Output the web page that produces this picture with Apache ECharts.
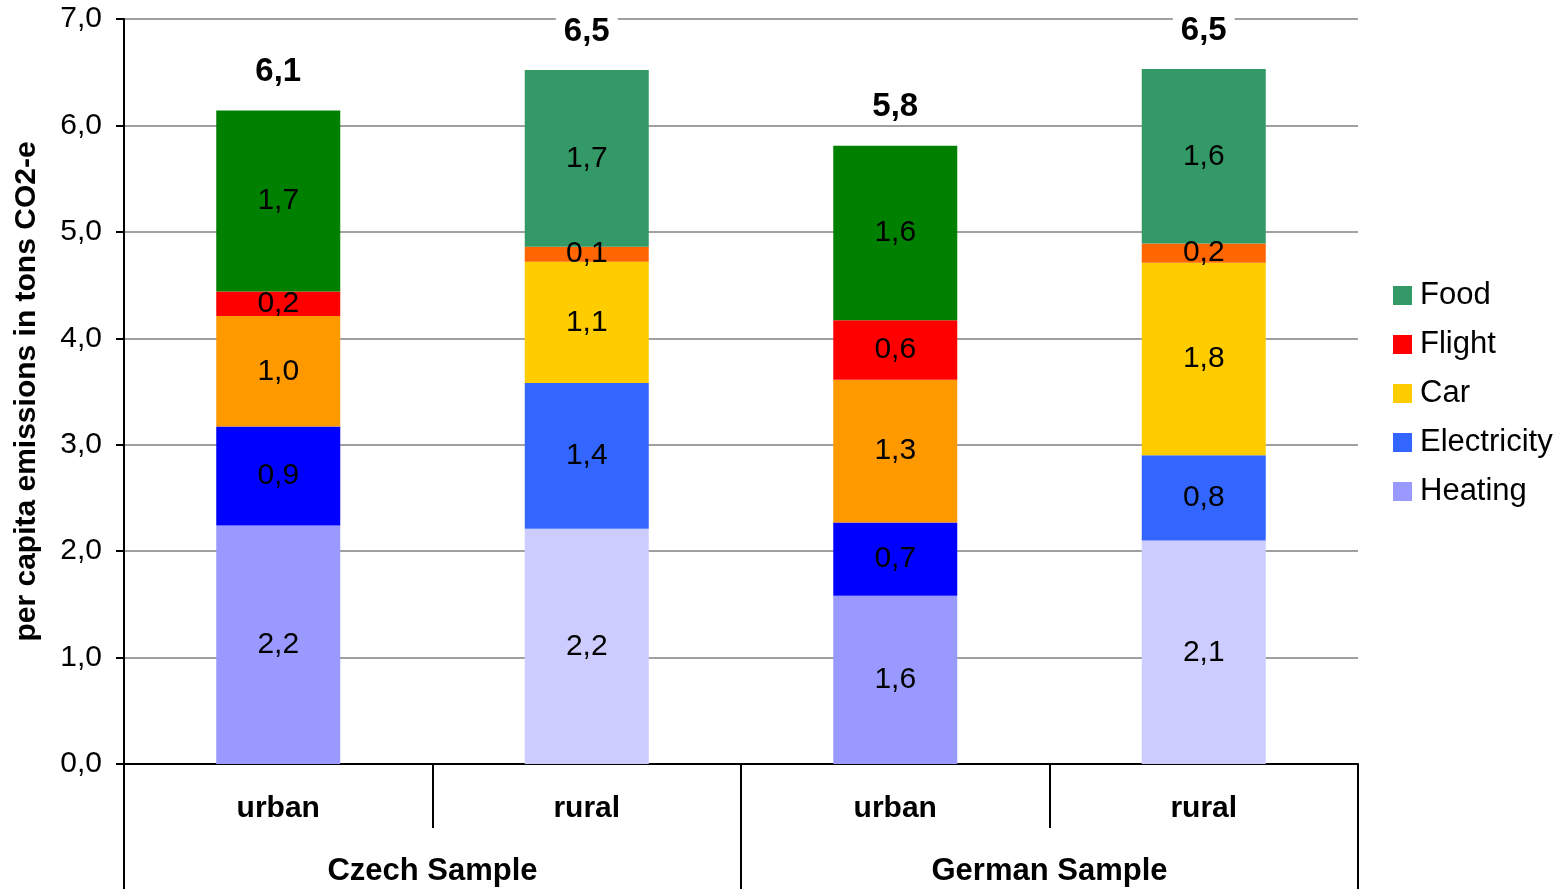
<!DOCTYPE html>
<html>
<head>
<meta charset="utf-8">
<script src="https://cdn.jsdelivr.net/npm/echarts@6/dist/echarts.min.js"></script>
<style>
html,body{margin:0;padding:0;background:#fff;}
#chart{width:1558px;height:889px;}
</style>
</head>
<body>
<div id="chart"></div>
<script>
// ---- data ----
var categories = ['urban', 'rural', 'urban', 'rural'];
var groups = ['Czech Sample', 'German Sample'];
var seriesNames = ['Heating', 'Electricity', 'Car', 'Flight', 'Food'];
var heating     = [2.24, 2.21, 1.58, 2.10];
var electricity = [0.93, 1.37, 0.69, 0.80];
var car         = [1.04, 1.14, 1.34, 1.81];
var flight      = [0.23, 0.14, 0.56, 0.18];
var food        = [1.70, 1.66, 1.64, 1.64];
var yTicks = [0, 1, 2, 3, 4, 5, 6, 7];
var legendOrder = ['Food', 'Flight', 'Car', 'Electricity', 'Heating'];

// colours per series: [urban, rural, legend]
var urbanColors = ['#9999ff', '#0000ff', '#ff9900', '#ff0000', '#008000'];
var ruralColors = ['#ccccff', '#3366ff', '#ffcc00', '#ff6600', '#339966'];
var legendColors = ['#9999ff', '#3366ff', '#ffcc00', '#ff0000', '#339966'];

var values = [heating, electricity, car, flight, food];
var totals = categories.map(function (c, i) {
  return values.reduce(function (s, arr) { return s + arr[i]; }, 0);
});

function fmt(v) { return Number(v).toFixed(1).replace('.', ','); }

var FONT = '"Liberation Sans", Arial, sans-serif';

var series = seriesNames.map(function (name, si) {
  return {
    name: name,
    type: 'bar',
    stack: 'total',
    barWidth: 124,
    itemStyle: { color: legendColors[si] },
    label: {
      show: true,
      position: 'inside',
      color: '#000',
      textBorderWidth: 0,
      fontFamily: FONT,
      fontSize: 30,
      formatter: function (p) { return fmt(p.value); }
    },
    emphasis: { disabled: true },
    data: values[si].map(function (v, i) {
      return { value: v, itemStyle: { color: (i % 2 === 0 ? urbanColors : ruralColors)[si] } };
    })
  };
});

series.push({
  name: 'Total',
  type: 'scatter',
  symbolSize: 0,
  silent: true,
  z: 10,
  itemStyle: { opacity: 1 },
  label: {
    show: true,
    position: 'top',
    distance: 22,
    color: '#000',
    opacity: 1,
    textBorderWidth: 0,
    fontFamily: FONT,
    fontWeight: 'bold',
    fontSize: 33,
    backgroundColor: '#fff',
    padding: [0, 8],
    formatter: function (p) { return fmt(p.value); }
  },
  emphasis: { disabled: true },
  data: totals
});

var chart = echarts.init(document.getElementById('chart'));
chart.setOption({
  animation: false,
  backgroundColor: '#fff',
  grid: { left: 124, right: 200, top: 19, bottom: 125, containLabel: false, outerBoundsMode: 'none' },
  legend: {
    data: legendOrder,
    orient: 'vertical',
    left: 1393,
    top: 280,
    padding: 0,
    itemWidth: 19,
    itemHeight: 19,
    itemGap: 18,
    icon: 'rect',
    selectedMode: false,
    textStyle: { fontFamily: FONT, fontSize: 31, color: '#000', padding: [0, 0, 0, 3] }
  },
  xAxis: [{
    type: 'category',
    data: categories,
    position: 'bottom',
    axisLine: { show: true, lineStyle: { color: '#000', width: 2 } },
    axisTick: { show: true, length: 64, lineStyle: { color: '#000', width: 2 } },
    axisLabel: { margin: 30, color: '#000', fontFamily: FONT, fontWeight: 'bold', fontSize: 30 }
  }, {
    type: 'category',
    data: groups,
    position: 'bottom',
    offset: 0,
    axisLine: { show: false },
    axisTick: { show: true, length: 125, lineStyle: { color: '#000', width: 2 } },
    axisLabel: { margin: 92, color: '#000', fontFamily: FONT, fontWeight: 'bold', fontSize: 31 }
  }],
  yAxis: {
    type: 'value',
    min: yTicks[0],
    max: yTicks[yTicks.length - 1],
    interval: 1,
    name: 'per capita emissions in tons CO2-e',
    nameLocation: 'middle',
    nameRotate: 90,
    nameGap: 82,
    nameTextStyle: { fontFamily: FONT, fontWeight: 'bold', fontSize: 30, color: '#000' },
    axisLine: { show: true, lineStyle: { color: '#000', width: 2 } },
    axisTick: { show: true, length: 8, lineStyle: { color: '#000', width: 2 } },
    axisLabel: { margin: 22, color: '#000', fontFamily: FONT, fontSize: 30, formatter: fmt },
    splitLine: { show: true, lineStyle: { color: '#a0a0a0', width: 2 } }
  },
  series: series
});
</script>
</body>
</html>
